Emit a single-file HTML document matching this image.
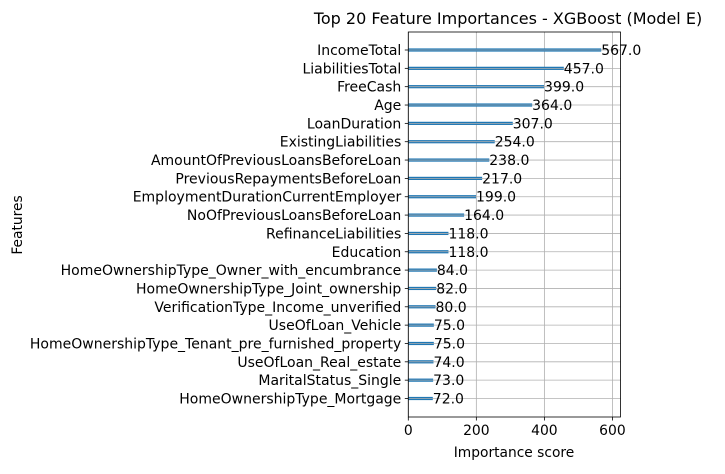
<!DOCTYPE html>
<html><head><meta charset="utf-8"><style>
body{margin:0;background:#fff;font-family:"DejaVu Sans","Liberation Sans",sans-serif;}
</style></head><body>
<svg id="c" width="725" height="470" xmlns="http://www.w3.org/2000/svg" style="font-family:'DejaVu Sans','Liberation Sans',sans-serif"></svg>
<script>
const features=["IncomeTotal","LiabilitiesTotal","FreeCash","Age","LoanDuration","ExistingLiabilities","AmountOfPreviousLoansBeforeLoan","PreviousRepaymentsBeforeLoan","EmploymentDurationCurrentEmployer","NoOfPreviousLoansBeforeLoan","RefinanceLiabilities","Education","HomeOwnershipType_Owner_with_encumbrance","HomeOwnershipType_Joint_ownership","VerificationType_Income_unverified","UseOfLoan_Vehicle","HomeOwnershipType_Tenant_pre_furnished_property","UseOfLoan_Real_estate","MaritalStatus_Single","HomeOwnershipType_Mortgage"];
const scores=[567,457,399,364,307,254,238,217,199,164,118,118,84,82,80,75,75,74,73,72];
const xTicks=[0,200,400,600];
const NS="http://www.w3.org/2000/svg",svg=document.getElementById('c');
const L=408.3,R=620.5,T=32,B=417;
const xmax=Math.max(...scores)*1.1;
const x=v=>L+v/xmax*(R-L);
const y=i=>50+i*(398.5-50)/(scores.length-1);
function mk(t,a,txt){const e=document.createElementNS(NS,t);for(const k in a)e.setAttribute(k,a[k]);if(txt!==undefined)e.textContent=txt;svg.appendChild(e);return e;}
xTicks.forEach(v=>{
 const g=mk('line',{x1:x(v),x2:x(v),y1:T,y2:B,stroke:'#b0b0b0','stroke-width':0.8});
 
 
 mk('line',{x1:x(v),x2:x(v),y1:B,y2:B+3.5,stroke:'#000','stroke-width':0.8});
 const t=mk('text',{x:x(v),y:B+18,'font-size':13.9,'text-anchor':'middle'},String(v));
 
 
});
features.forEach((f,i)=>{
 const yy=y(i);
 const g=mk('line',{x1:L,x2:R,y1:yy,y2:yy,stroke:'#b0b0b0','stroke-width':0.8});
 
 
 const b=mk('rect',{x:L,y:yy-1.6,width:x(scores[i])-L,height:3.2,fill:'#1f77b4'});
 
 
 mk('line',{x1:L,x2:x(scores[i]),y1:yy,y2:yy,stroke:'#b0b0b0','stroke-width':0.8});
 mk('line',{x1:L-3.5,x2:L,y1:yy,y2:yy,stroke:'#000','stroke-width':0.8});
 const lt=mk('text',{x:L-7,y:yy+5,'font-size':14,'text-anchor':'end'},f);
 
 
 const vt=mk('text',{x:x(scores[i]),y:yy+5,'font-size':14},scores[i].toFixed(1));
 
 
});
const fr=mk('rect',{x:L,y:T,width:R-L,height:B-T,fill:'none',stroke:'#000','stroke-width':0.8});


const ti=mk('text',{x:508,y:24,'font-size':16,'text-anchor':'middle'},'Top 20 Feature Importances - XGBoost (Model E)');


const xl=mk('text',{x:514,y:457,'font-size':13.8,'text-anchor':'middle'},'Importance score');


const yl=mk('text',{x:22,y:225,'font-size':13.8,'text-anchor':'middle',transform:'rotate(-90 22 225)'},'Features');


</script>
</body></html>
